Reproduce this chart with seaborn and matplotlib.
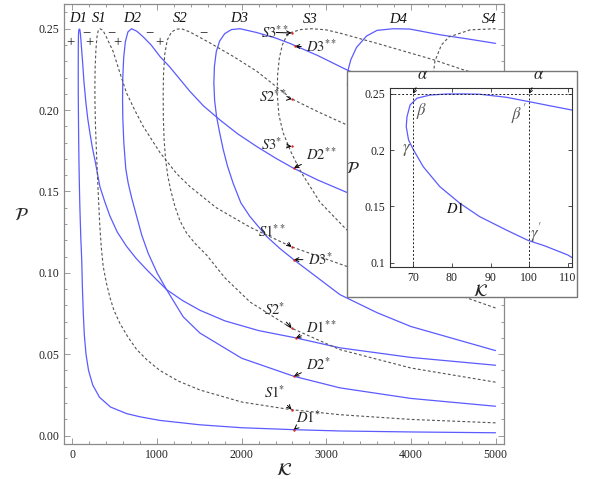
import numpy as np
import pandas as pd
import matplotlib
matplotlib.use("Agg")
import matplotlib.pyplot as plt
from matplotlib.patches import Rectangle
from matplotlib.ticker import MultipleLocator, FixedLocator
import seaborn as sns

# ---------------- data ----------------
# each curve is one path: lower branch (from K=5000 leftwards), turning point, peak, upper branch
D1_K = [5000, 4000, 3161, 2619, 2000, 1506, 1033, 800, 639, 450, 320, 240, 190, 160, 140, 128, 118, 110,
        104, 99.6, 94.1, 87.2, 82.1, 76.9, 72.6, 70.1, 68.8, 68.2, 68.4, 69.2, 71, 74.4, 78.7, 83, 87.2, 94.1,
        100, 105, 110, 119, 135, 158, 180, 206, 235, 265, 324, 380, 442, 530, 639, 750, 876, 1000, 1112, 1300,
        1506, 1800, 2200, 2640, 3161, 4000, 5000]
D1_P = [0.0017, 0.0022, 0.0028, 0.0036, 0.0048, 0.0066, 0.0093, 0.0115, 0.0135, 0.0175, 0.0235, 0.031, 0.04,
        0.05, 0.062, 0.075, 0.09, 0.1069, 0.115, 0.120, 0.129, 0.1409, 0.1527, 0.1675, 0.1852, 0.2,
        0.2089, 0.2207, 0.2296, 0.24, 0.246, 0.2488, 0.2497, 0.2498, 0.2495, 0.2468, 0.2429, 0.2395, 0.2362,
        0.23, 0.218, 0.205, 0.195, 0.186, 0.177, 0.1695, 0.153, 0.144, 0.135, 0.125, 0.1163, 0.109, 0.102,
        0.0955, 0.0897, 0.083, 0.077, 0.0705, 0.0645, 0.060, 0.0539, 0.048, 0.0432]

D2_K = [5000, 4000, 3161, 2617, 2000, 1506, 1308, 1112, 1000, 895, 820, 757, 700, 659, 630, 607, 595, 592, 595,
        605, 625, 655, 698, 760, 836, 930, 1033, 1150, 1269, 1388, 1550, 1742, 1950, 2175, 2400, 2608, 2900,
        3239, 4000, 5000]
D2_P = [0.018, 0.0228, 0.0293, 0.0364, 0.0475, 0.063, 0.073, 0.0897, 0.1, 0.112, 0.123, 0.135, 0.146, 0.155,
        0.164, 0.18, 0.195, 0.206, 0.22, 0.232, 0.242, 0.248, 0.25, 0.2485, 0.245, 0.24, 0.233, 0.2265, 0.219,
        0.2115, 0.2025, 0.194, 0.1855, 0.1777, 0.1705, 0.1644, 0.157, 0.1495, 0.134, 0.118]

D3_K = [5000, 4000, 3600, 3161, 2617, 2450, 2294, 2096, 1990, 1899, 1830, 1782, 1740, 1703, 1680, 1671, 1678,
        1700, 1740, 1800, 1880, 1980, 2175, 2400, 2569, 2900, 3239, 4000, 5000]
D3_P = [0.0522, 0.067, 0.0755, 0.0866, 0.108, 0.115, 0.1224, 0.1347, 0.143, 0.155, 0.166, 0.1757, 0.186, 0.196,
        0.206, 0.2166, 0.227, 0.236, 0.2425, 0.247, 0.2495, 0.25, 0.2477, 0.2443, 0.241, 0.2335, 0.2248, 0.208,
        0.19]

D4_K = [5000, 4500, 4000, 3600, 3300, 3250, 3258, 3290, 3357, 3475, 3600, 3790, 3987, 4342, 4700, 5000]
D4_P = [0.165, 0.178, 0.19, 0.2, 0.21, 0.215, 0.2248, 0.231, 0.2385, 0.2455, 0.249, 0.25, 0.2498, 0.2463,
        0.2435, 0.241]

S1_K = [5000, 4000, 3161, 2569, 2000, 1506, 1250, 1033, 880, 757, 650, 560, 490, 442, 400, 363, 340, 322, 308,
        295, 283, 272, 266, 265, 268, 277, 290, 305, 324, 360, 400, 481, 560, 639, 736, 836, 1033, 1230, 1388,
        1700, 2100, 2589, 3239, 4000, 5000]
S1_P = [0.0078, 0.0099, 0.0128, 0.016, 0.0206, 0.028, 0.0335, 0.040, 0.0465, 0.053, 0.061, 0.069, 0.077, 0.085,
        0.094, 0.104, 0.116, 0.13, 0.145, 0.16, 0.175, 0.19, 0.205, 0.215, 0.226, 0.237, 0.245, 0.249, 0.25,
        0.249, 0.245, 0.236, 0.223, 0.2105, 0.2, 0.19, 0.174, 0.161, 0.153, 0.14, 0.128, 0.116, 0.104, 0.094,
        0.085]

S2_K = [5000, 4000, 3161, 2589, 2100, 1800, 1584, 1450, 1348, 1270, 1210, 1160, 1125, 1100, 1083, 1074, 1072,
        1076, 1090, 1120, 1170, 1230, 1289, 1388, 1600, 1900, 2175, 2589, 2900, 3239, 4000, 5000]
S2_P = [0.0328, 0.0415, 0.0528, 0.066, 0.082, 0.097, 0.111, 0.118, 0.1245, 0.132, 0.141, 0.151, 0.16, 0.17,
        0.182, 0.195, 0.21, 0.222, 0.234, 0.243, 0.248, 0.2497, 0.25, 0.248, 0.242, 0.233, 0.224, 0.207, 0.199,
        0.191, 0.175, 0.158]

S3_K = [5000, 4660, 4000, 3600, 3239, 2924, 2700, 2589, 2490, 2440, 2419, 2425, 2445, 2480, 2530, 2589, 2700,
        2830, 3000, 3161, 3600, 4263, 4617, 5000]
S3_P = [0.0784, 0.0846, 0.1, 0.113, 0.1265, 0.1435, 0.162, 0.1735, 0.186, 0.197, 0.2105, 0.222, 0.232, 0.24,
        0.2455, 0.2478, 0.2495, 0.25, 0.2493, 0.2473, 0.241, 0.231, 0.2248, 0.219]

S4_K = [5000, 4700, 4450, 4320, 4270, 4265, 4283, 4360, 4450, 4539, 4700, 5000]
S4_P = [0.155, 0.168, 0.185, 0.2, 0.212, 0.222, 0.23, 0.24, 0.245, 0.2465, 0.2493, 0.25]

curve_names = ["D1", "D2", "D3", "D4", "S1", "S2", "S3", "S4"]
curve_K = [D1_K, D2_K, D3_K, D4_K, S1_K, S2_K, S3_K, S4_K]
curve_P = [D1_P, D2_P, D3_P, D4_P, S1_P, S2_P, S3_P, S4_P]

# curve labels along the top
top_label_text = ["D1", "S1", "D2", "S2", "D3", "S3", "D4", "S4"]
top_label_K = [70, 318, 707, 1270, 1970, 2805, 3850, 4930]
top_label_P = [0.2565, 0.2565, 0.2565, 0.2565, 0.2565, 0.2555, 0.2555, 0.2555]

# +/- signs
sign_text = ["+", "\u2212", "+", "\u2212", "+", "\u2212", "+", "\u2212"]
sign_K = [-22, 159, 197, 461, 529, 906, 1033, 1553]
sign_P = [0.2412, 0.2473, 0.2412, 0.2473, 0.2412, 0.2473, 0.2412, 0.2473]

# annotations: label, text position, arrow tip
ann_text = ["S3**", "D3**", "S2**", "S3*", "D2**", "S1**", "D3*", "S2*", "D1**", "D2*", "S1*", "D1*"]
ann_text_K = [2392, 2944, 2372, 2353, 2944, 2353, 2924, 2392, 2944, 2904, 2392, 2785]
ann_text_P = [0.2477, 0.2391, 0.2084, 0.1787, 0.1726, 0.1255, 0.1081, 0.0774, 0.0662, 0.0436, 0.0262, 0.0109]
ann_tip_K = [2589, 2628, 2589, 2589, 2617, 2589, 2617, 2589, 2640, 2617, 2589, 2617]
ann_tip_P = [0.2474, 0.2391, 0.2068, 0.1777, 0.1644, 0.1159, 0.1081, 0.0662, 0.060, 0.0364, 0.016, 0.0037]

# ---------------- figure ----------------
sns.set_theme(style="ticks")
plt.rcParams["font.family"] = ["Liberation Serif", "DejaVu Serif"]
plt.rcParams["mathtext.fontset"] = "stix"

BLUE = "#5b5bff"
GRAY = "#555555"
FRAME = "#8a8a8a"

fig = plt.figure(figsize=(5.9, 4.79), dpi=100)
ax = fig.add_axes([64 / 590, 1 - 444 / 479, 440 / 590, 440 / 479])


def draw_curves(a, lw):
    for name, ks, ps in zip(curve_names, curve_K, curve_P):
        df = pd.DataFrame({"K": ks, "P": ps})
        if name.startswith("D"):
            sns.lineplot(data=df, x="K", y="P", sort=False, estimator=None, ax=a,
                         color=BLUE, lw=lw, legend=False)
        else:
            sns.lineplot(data=df, x="K", y="P", sort=False, estimator=None, ax=a,
                         color=GRAY, lw=lw * 0.9, linestyle=(0, (2.5, 2.0)), legend=False)


draw_curves(ax, 0.9)

ax.set_xlim(-100, 5100)
ax.set_ylim(-0.0052, 0.2652)
ax.xaxis.set_major_locator(MultipleLocator(1000))
ax.xaxis.set_minor_locator(MultipleLocator(200))
ax.yaxis.set_major_locator(MultipleLocator(0.05))
ax.yaxis.set_minor_locator(MultipleLocator(0.01))
ax.yaxis.set_major_formatter(matplotlib.ticker.FormatStrFormatter("%.2f"))
ax.tick_params(which="both", direction="in", top=True, right=True, colors=FRAME,
               labelcolor="#222222", labelsize=8.5, width=0.6)
ax.tick_params(which="major", length=4)
ax.tick_params(which="minor", length=2)
for s in ax.spines.values():
    s.set_color(FRAME)
    s.set_linewidth(0.9)
ax.set_xlabel(r"$\mathcal{K}$", fontsize=13, labelpad=1)
ax.set_ylabel(r"$\mathcal{P}$", fontsize=13, rotation=0, labelpad=12)

for t, k, p in zip(top_label_text, top_label_K, top_label_P):
    ax.text(k, p, t, fontsize=10.5, style="italic", ha="center", va="center", color="#111111")
for t, k, p in zip(sign_text, sign_K, sign_P):
    ax.text(k, p, t, fontsize=10.5, ha="center", va="center", color="#222222")

for t, tk, tp, ak, ap in zip(ann_text, ann_text_K, ann_text_P, ann_tip_K, ann_tip_P):
    lab = r"$\mathit{" + t.rstrip("*") + "}^{" + "*" * t.count("*") + "}$"
    ax.annotate(lab, xy=(ak, ap), xytext=(tk, tp), fontsize=10.5, ha="center", va="center",
                arrowprops=dict(arrowstyle="->", lw=0.7, color="black", mutation_scale=7,
                                shrinkA=1, shrinkB=0))
sns.scatterplot(x=ann_tip_K, y=ann_tip_P, ax=ax, color="#dd2222", s=3, linewidth=0, zorder=4, legend=False)

# ---------------- inset ----------------
box = Rectangle((347 / 590, 1 - 297 / 479), 230 / 590, 226 / 479, transform=fig.transFigure,
                facecolor="white", edgecolor="#777777", lw=1.0, zorder=5)
fig.patches.append(box)

axi = fig.add_axes([390 / 590, 1 - 266.7 / 479, 181.7 / 590, 179 / 479], zorder=6)
draw_curves(axi, 0.9)
axi.set_xlim(64, 111)
axi.set_ylim(0.0965, 0.2553)
axi.xaxis.set_major_locator(FixedLocator([70, 80, 90, 100, 110]))
axi.yaxis.set_major_locator(FixedLocator([0.1, 0.15, 0.2, 0.25]))
axi.set_yticklabels(["0.1", "0.15", "0.2", "0.25"])
axi.tick_params(which="both", direction="in", top=True, right=True, colors="#333333",
                labelcolor="#222222", labelsize=8.5, width=0.6, length=3)
for s in axi.spines.values():
    s.set_color("#333333")
    s.set_linewidth(0.8)
axi.set_xlabel(r"$\mathcal{K}$", fontsize=12, labelpad=0)
axi.set_ylabel(r"$\mathcal{P}$", fontsize=12, rotation=0, labelpad=8)

axi.axhline(0.25, color="#222222", lw=0.7, linestyle=(0, (2, 2)))
axi.plot([70, 70], [0.25, 0.0965], color="#222222", lw=0.7, linestyle=(0, (2, 2)))
axi.plot([100, 100], [0.25, 0.0965], color="#222222", lw=0.7, linestyle=(0, (2, 2)))

for xk in [70, 100]:
    axi.annotate(r"$\alpha$", xy=(xk, 0.25), xytext=(xk + 2.3, 0.2665), fontsize=12,
                 ha="center", va="center", annotation_clip=False,
                 arrowprops=dict(arrowstyle="->", lw=0.6, color="black", mutation_scale=6,
                                 shrinkA=1, shrinkB=0))
inset_txt = [r"$\beta$", r"$\beta^{\prime}$", r"$\gamma$", r"$\gamma^{\prime}$", r"$\mathit{D1}$"]
inset_K = [72.2, 97.4, 68.3, 101.9, 80.8]
inset_P = [0.235, 0.2323, 0.2003, 0.1263, 0.1485]
inset_col = ["#555555", "#555555", "#555555", "#555555", "#111111"]
for t, k, p, c in zip(inset_txt, inset_K, inset_P, inset_col):
    axi.text(k, p, t, fontsize=12 if t != r"$\mathit{D1}$" else 10.5, ha="center", va="center", color=c)

fig.savefig("out.png", dpi=100)
